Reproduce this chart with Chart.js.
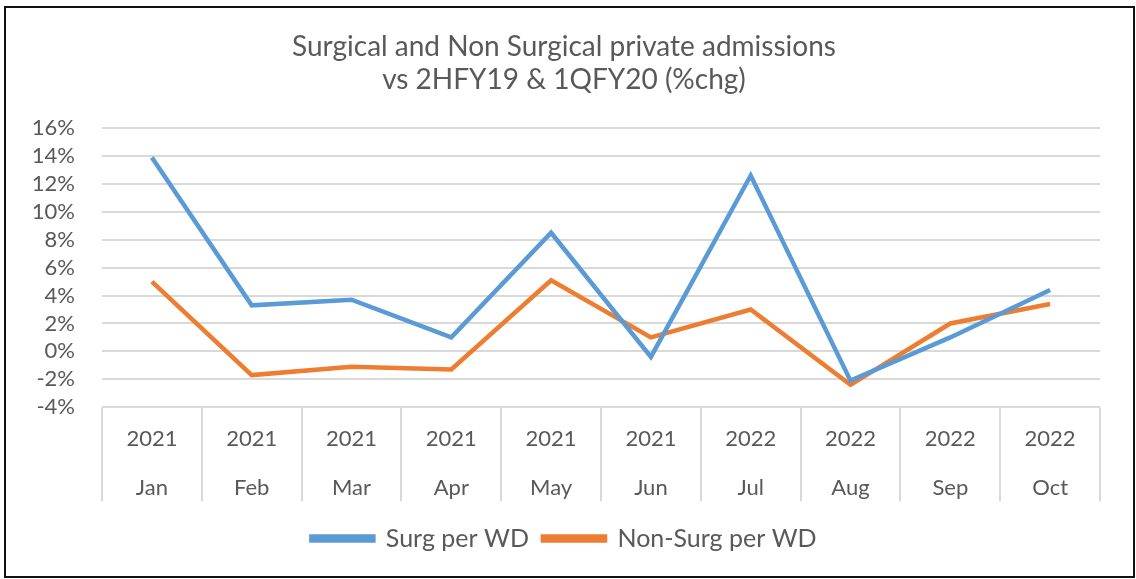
<!DOCTYPE html>
<html lang="en">
<head>
    <meta charset="UTF-8">
    <title>Surgical and Non Surgical private admissions</title>
    <script src="https://cdn.jsdelivr.net/npm/chart.js"></script>
    <style>
        html, body { margin: 0; padding: 0; background: #fff; }
        #frame {
            position: absolute;
            left: 4px; top: 6px;
            width: 1127px; height: 568px;
            border: 2px solid #111;
            background: #fff;
        }
        #chart-container {
            position: absolute;
            left: -6px; top: -8px;
            width: 1136px; height: 579px;
        }
    </style>
</head>
<body>
    <div id="frame">
        <div id="chart-container">
            <canvas id="myChart"></canvas>
        </div>
    </div>

    <script>
        // Data
        const years = ['2021', '2021', '2021', '2021', '2021', '2021', '2022', '2022', '2022', '2022'];
        const months = ['Jan', 'Feb', 'Mar', 'Apr', 'May', 'Jun', 'Jul', 'Aug', 'Sep', 'Oct'];
        const surgPerWD = [13.9, 3.3, 3.7, 1.0, 8.5, -0.4, 12.6, -2.1, 1.0, 4.4];
        const nonSurgPerWD = [5.0, -1.7, -1.1, -1.3, 5.1, 1.0, 3.0, -2.4, 2.0, 3.4];

        const fontFamily = 'Lato, "Open Sans", sans-serif';
        const textColor = '#595959';
        const gridColor = '#d9d9d9';

        const labels = years.map((y, i) => [y, months[i]]);

        // vertical separators between categories below the plot (two-level axis look)
        const separators = {
            id: 'separators',
            afterDraw(chart) {
                const xs = chart.scales.x;
                const top = chart.chartArea.bottom;
                const ctx = chart.ctx;
                ctx.save();
                ctx.strokeStyle = gridColor;
                ctx.lineWidth = 2;
                ctx.beginPath();
                for (let i = 0; i <= labels.length; i++) {
                    const x = Math.round(xs.getPixelForValue(i - 0.5));
                    ctx.moveTo(x, top);
                    ctx.lineTo(x, top + 94);
                }
                ctx.stroke();
                ctx.restore();
            }
        };

        const chartData = {
            labels: labels,
            datasets: [{
                label: 'Surg per WD',
                data: surgPerWD,
                borderColor: '#5b9bd5',
                backgroundColor: '#5b9bd5',
                borderWidth: 4.5,
                pointRadius: 0,
                tension: 0
            }, {
                label: 'Non-Surg per WD',
                data: nonSurgPerWD,
                borderColor: '#ed7d31',
                backgroundColor: '#ed7d31',
                borderWidth: 4.5,
                pointRadius: 0,
                tension: 0
            }]
        };

        const options = {
            responsive: true,
            maintainAspectRatio: false,
            animation: false,
            layout: {
                padding: { left: 28, right: 36, top: 30, bottom: 18 }
            },
            plugins: {
                title: {
                    display: true,
                    text: ['Surgical and Non Surgical private admissions', 'vs 2HFY19 & 1QFY20 (%chg)'],
                    color: textColor,
                    font: { family: fontFamily, size: 28, weight: 'normal', lineHeight: 1.18 },
                    padding: { top: 0, bottom: 32 }
                },
                legend: {
                    position: 'bottom',
                    labels: {
                        color: textColor,
                        font: { family: fontFamily, size: 25 },
                        boxWidth: 62,
                        boxHeight: 4,
                        padding: 14
                    }
                },
                tooltip: { enabled: false }
            },
            scales: {
                x: {
                    offset: true,
                    grid: { display: false },
                    border: { display: false },
                    ticks: {
                        color: textColor,
                        font: { family: fontFamily, size: 22, lineHeight: 2.2 },
                        padding: 0,
                        maxRotation: 0,
                        autoSkip: false
                    }
                },
                y: {
                    min: -4,
                    max: 16,
                    afterFit: scale => { scale.width = 74; },
                    grid: {
                        color: gridColor,
                        lineWidth: 2,
                        drawTicks: false
                    },
                    border: { display: false },
                    ticks: {
                        stepSize: 2,
                        autoSkip: false,
                        color: textColor,
                        font: { family: fontFamily, size: 22, lineHeight: 1 },
                        padding: 27,
                        callback: v => v + '%'
                    }
                }
            }
        };

        const ctx = document.getElementById('myChart').getContext('2d');
        new Chart(ctx, {
            type: 'line',
            data: chartData,
            options: options,
            plugins: [separators]
        });
    </script>
</body>
</html>
